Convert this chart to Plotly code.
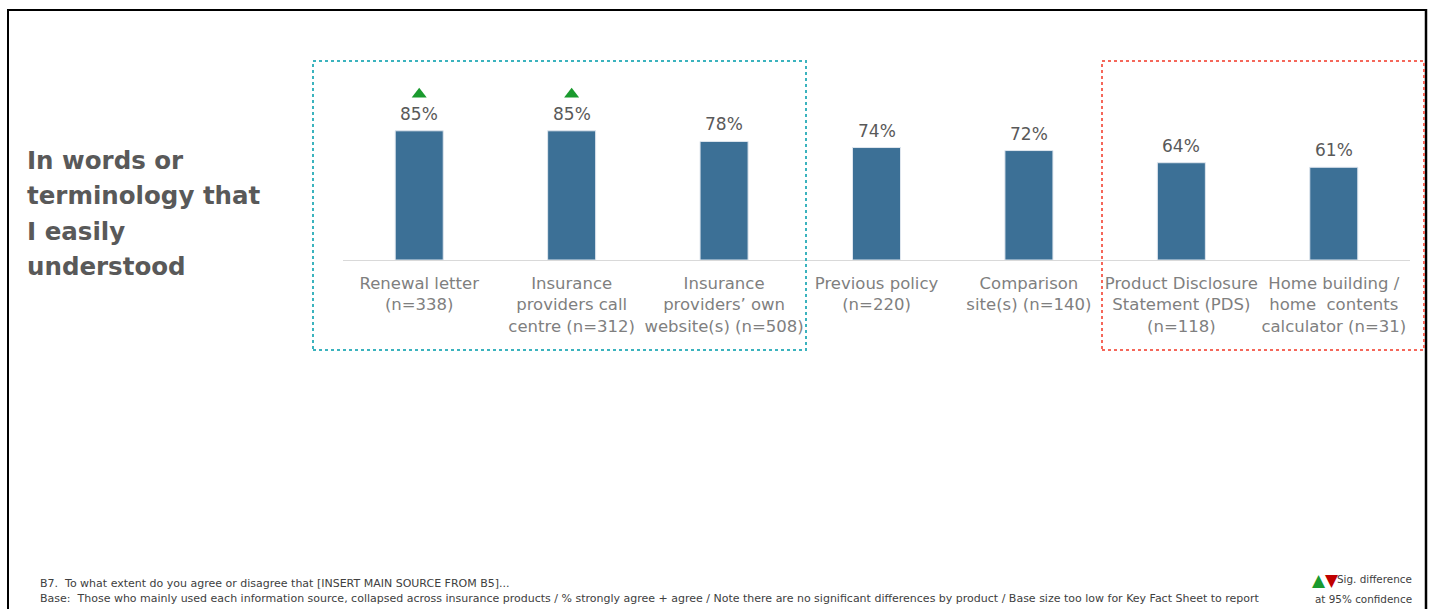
import plotly.graph_objects as go

W, H = 1431, 609

categories = [
    "Renewal letter<br>(n=338)",
    "Insurance<br>providers call<br>centre (n=312)",
    "Insurance<br>providers’ own<br>website(s) (n=508)",
    "Previous policy<br>(n=220)",
    "Comparison<br>site(s) (n=140)",
    "Product Disclosure<br>Statement (PDS)<br>(n=118)",
    "Home building /<br>home  contents<br>calculator (n=31)",
]
values = [85, 85, 78, 74, 72, 64, 61]
sig_up = [True, True, False, False, False, False, False]
value_labels = [f"{v}%" for v in values]

title_lines = ["In words or", "terminology that", "I easily", "understood"]
foot1 = "B7.  To what extent do you agree or disagree that [INSERT MAIN SOURCE FROM B5]..."
foot2 = ("Base:  Those who mainly used each information source, collapsed across insurance products / "
         "% strongly agree + agree / Note there are no significant differences by product / "
         "Base size too low for Key Fact Sheet to report")

FONT = "DejaVu Sans"
BAR = "#3C7096"


def px(x):
    return x / W


def py(y):
    return 1 - y / H


xs = list(range(len(categories)))
PX_PER_UNIT = 1.52
YMAX = 130
y_top_px = 260 - YMAX * PX_PER_UNIT

fig = go.Figure()
fig.add_trace(go.Bar(
    x=xs, y=values, width=0.315,
    marker=dict(color=BAR, line=dict(color="#dfe6ee", width=1)),
    hoverinfo="skip",
))
sx = [x for x, s in zip(xs, sig_up) if s]
sy = [v + 24 for v, s in zip(values, sig_up) if s]
fig.add_trace(go.Scatter(
    x=sx, y=sy, mode="markers",
    marker=dict(symbol="triangle-up", size=13, color="#1A9A2E"),
    hoverinfo="skip",
))

shapes = [
    dict(type="line", xref="paper", yref="paper", x0=px(7), x1=px(1426), y0=py(10), y1=py(10),
         line=dict(color="black", width=2)),
    dict(type="line", xref="paper", yref="paper", x0=px(8), x1=px(8), y0=py(9), y1=py(620),
         line=dict(color="black", width=2)),
    dict(type="line", xref="paper", yref="paper", x0=px(1426), x1=px(1426), y0=py(9), y1=py(620),
         line=dict(color="black", width=2.5)),
    dict(type="rect", xref="paper", yref="paper", x0=px(313), x1=px(806), y0=py(350), y1=py(61),
         line=dict(color="#3BB3BE", width=2, dash="dot")),
    dict(type="rect", xref="paper", yref="paper", x0=px(1102), x1=px(1424), y0=py(350), y1=py(61),
         line=dict(color="#F5675A", width=2, dash="dot")),
]

annotations = []
for x, v, lab in zip(xs, values, value_labels):
    annotations.append(dict(text=lab, x=x, y=v, xref="x", yref="y", yanchor="bottom",
                            yshift=5, showarrow=False,
                            font=dict(family=FONT, size=17, color="#595959")))

for i, line in enumerate(title_lines):
    annotations.append(dict(text="<b>" + line + "</b>", xref="paper", yref="paper",
                            x=px(25), y=py(160 + i * 35.5), xanchor="left", yanchor="middle",
                            showarrow=False, font=dict(family=FONT, size=24.5, color="#595959")))

annotations += [
    dict(text=foot1, xref="paper", yref="paper", x=px(38), y=py(583), xanchor="left", yanchor="middle",
         showarrow=False, font=dict(family=FONT, size=11, color="#404040")),
    dict(text=foot2, xref="paper", yref="paper", x=px(38), y=py(598), xanchor="left", yanchor="middle",
         showarrow=False, font=dict(family=FONT, size=11, color="#404040")),
    dict(text="<span style='color:#1A9A2E'>▲</span><span style='color:#C00000'>▼</span>",
         xref="paper", yref="paper", x=px(1341), y=py(580), xanchor="right", yanchor="middle",
         showarrow=False, font=dict(family=FONT, size=17)),
    dict(text="Sig. difference",
         xref="paper", yref="paper", x=px(1414), y=py(579), xanchor="right", yanchor="middle",
         showarrow=False, font=dict(family=FONT, size=10.4, color="#404040")),
    dict(text="at 95% confidence", xref="paper", yref="paper", x=px(1414), y=py(599),
         xanchor="right", yanchor="middle", showarrow=False,
         font=dict(family=FONT, size=10.4, color="#404040")),
]

fig.update_layout(
    width=W, height=H, margin=dict(l=0, r=0, t=0, b=0),
    paper_bgcolor="white", plot_bgcolor="white", showlegend=False,
    shapes=shapes, annotations=annotations,
    xaxis=dict(domain=[px(343), px(1410)], range=[-0.5, 6.5], tickvals=xs, ticktext=categories,
               showline=True, linecolor="#D9D9D9", linewidth=1, ticks="", showgrid=False,
               zeroline=False, tickfont=dict(family=FONT, size=16.5, color="#7F7F7F"),
               ticklabelstandoff=8, fixedrange=True),
    yaxis=dict(domain=[py(260), py(y_top_px)], range=[0, YMAX], visible=False, fixedrange=True),
)

fig.write_html(
    "out.html",
    config={"displayModeBar": False},
    post_script="document.body.style.margin='0';document.body.style.overflow='hidden';",
)
